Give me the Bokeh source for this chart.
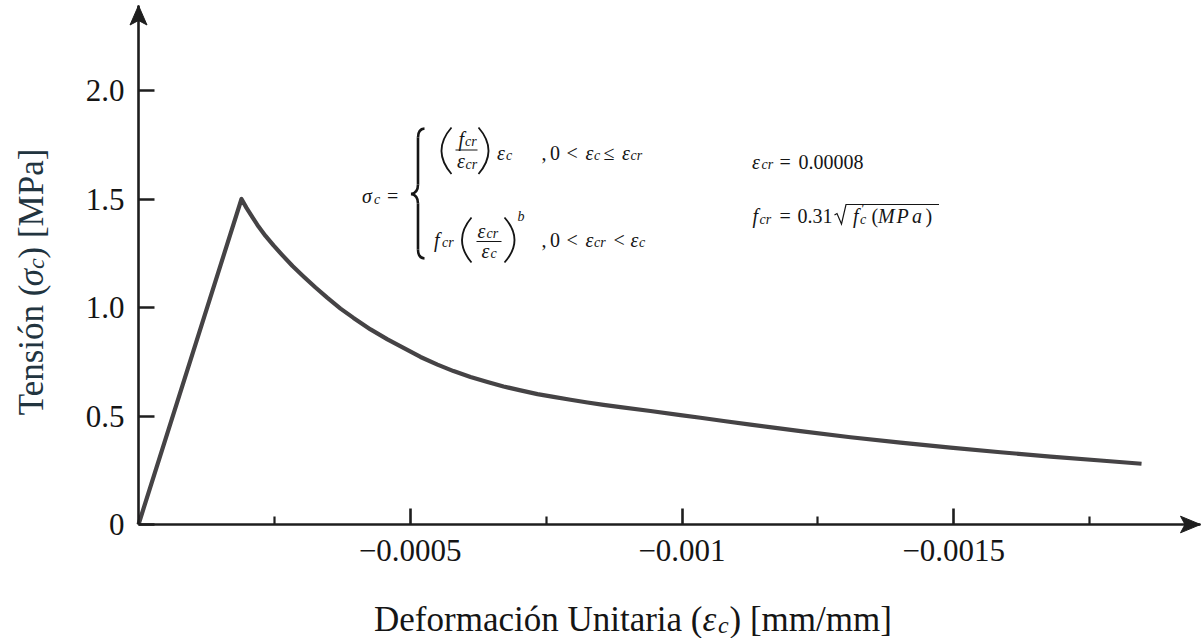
import math
from bokeh.plotting import figure
from bokeh.models import Range1d, FixedTicker, CustomJSTickFormatter, Label
from bokeh.embed import file_html
from bokeh.resources import INLINE

# Tension curve of concrete: strain (mm/mm) and stress (MPa)
strain = [0.0, -0.0001895, -0.0001987, -0.0002098, -0.0002208, -0.0002337,
          -0.0002484, -0.000265, -0.0002834, -0.0003036, -0.0003257,
          -0.0003477, -0.0003717, -0.0003956, -0.0004269, -0.0004581,
          -0.0004876, -0.0005189, -0.0005501, -0.0005796, -0.0006109,
          -0.0006421, -0.0006716, -0.0007029, -0.0007341, -0.0007636,
          -0.0007949, -0.0008261, -0.0008556, -0.0008868, -0.000942,
          -0.0009972, -0.001034, -0.00108, -0.001126, -0.001172, -0.001218,
          -0.00131, -0.001402, -0.001494, -0.001586, -0.001678, -0.00177,
          -0.0018455]
stress = [0.0, 1.5, 1.459, 1.415, 1.373, 1.33, 1.286, 1.24, 1.191, 1.143,
          1.092, 1.044, 0.995, 0.952, 0.899, 0.853, 0.814, 0.772, 0.737,
          0.707, 0.68, 0.657, 0.636, 0.618, 0.601, 0.588, 0.575, 0.562,
          0.551, 0.541, 0.523, 0.504, 0.492, 0.476, 0.46, 0.445, 0.43,
          0.402, 0.377, 0.354, 0.333, 0.313, 0.295, 0.28]

x_ticks = [-0.0005, -0.001, -0.0015]
x_minor_ticks = [-0.00025, -0.00075, -0.00125, -0.00175]
y_ticks = [0, 0.5, 1.0, 1.5, 2.0]

# canvas geometry: the frame fills the canvas, axes sit at x=0 / y=0
W, H = 1204, 638
ORIGIN_X, ORIGIN_Y = 138, 524   # pixel position of (0, 0)
PX_PER_X = 543500.0             # pixels per unit of strain
PX_PER_Y = 217.0                # pixels per MPa

INK = "#151515"
AXIS = "#1e1e1e"
SERIF = "Liberation Serif"
LABEL_DY = 6.0                  # baseline correction for Label text


def at(px, py):
    """Canvas pixel position -> data coordinates."""
    return (-(px - ORIGIN_X) / PX_PER_X, (ORIGIN_Y - py) / PX_PER_Y)


x_lo, y_hi = at(0, 0)
x_hi, y_lo = at(W, H)
x_tip, _ = at(1200, ORIGIN_Y)
_, y_tip = at(ORIGIN_X, 5)

p = figure(width=W, height=H, title=None,
           x_range=Range1d(x_lo, x_hi), y_range=Range1d(y_lo, y_hi),
           output_backend="svg", toolbar_location=None, min_border=0)
p.outline_line_color = None
p.grid.visible = False
p.background_fill_color = "white"
p.border_fill_color = "white"

xa = p.xaxis[0]
ya = p.yaxis[0]
xa.fixed_location = 0
ya.fixed_location = 0
xa.bounds = (x_tip, 0)
ya.bounds = (0, y_tip)
xa.ticker = FixedTicker(ticks=x_ticks, minor_ticks=x_minor_ticks)
ya.ticker = FixedTicker(ticks=y_ticks)
xa.formatter = CustomJSTickFormatter(code="return '\u2212' + Math.abs(tick).toString();")
ya.formatter = CustomJSTickFormatter(code="return tick == 0 ? '0' : tick.toFixed(1);")

for ax in (xa, ya):
    ax.axis_line_width = 2.6
    ax.axis_line_color = AXIS
    ax.major_tick_in = 16
    ax.major_tick_out = 0
    ax.major_tick_line_width = 2.6
    ax.major_tick_line_color = AXIS
    ax.major_label_text_font = SERIF
    ax.major_label_text_font_size = "31px"
    ax.major_label_text_color = INK
xa.minor_tick_in = 8
xa.minor_tick_out = 0
xa.minor_tick_line_width = 2.2
xa.minor_tick_line_color = AXIS
ya.minor_tick_line_color = None
xa.major_label_standoff = 15
ya.major_label_standoff = 14


def patch_px(points, color=AXIS):
    xs, ys = zip(*[at(*pt) for pt in points])
    p.patch(list(xs), list(ys), fill_color=color, line_color=color, line_width=1)


# stealth arrow heads at the axis ends
patch_px([(138, 5), (146.5, 24.5), (138, 20), (129.5, 24.5)])
patch_px([(1200, ORIGIN_Y), (1180, ORIGIN_Y - 8.3), (1184.5, ORIGIN_Y), (1180, ORIGIN_Y + 8.3)])

# the stress-strain curve
p.line(strain, stress, line_width=4.2, line_color="#454345",
       line_join="round", line_cap="butt")


def put(txt, px, py, size=20, italic=False, align="left", angle=0.0, color=INK):
    if angle:
        px -= LABEL_DY
    else:
        py -= LABEL_DY
    x, y = at(px, py)
    p.add_layout(Label(x=x, y=y, text=txt, text_font=SERIF,
                       text_font_size=f"{size}px",
                       text_font_style="italic" if italic else "normal",
                       text_align=align, text_baseline="alphabetic",
                       angle=angle, text_color=color))


def quad(a, c, b, width=1.8):
    (x0, y0), (cx, cy), (x1, y1) = at(*a), at(*c), at(*b)
    p.quadratic(x0=x0, y0=y0, x1=x1, y1=y1, cx=cx, cy=cy,
                line_color=INK, line_width=width)


def seg(a, b, width=1.2):
    (x0, y0), (x1, y1) = at(*a), at(*b)
    p.segment(x0=x0, y0=y0, x1=x1, y1=y1, line_color=INK, line_width=width)


# sigma_c =
put("σ", 361.5, 201.5, italic=True)
put("c", 373.5, 204.5, 14, italic=True)
put("=", 386.5, 201.5)

# curly brace
quad((424, 128), (417.5, 128.5), (417.5, 137), 2.6)
seg((417.5, 137), (417.5, 184), 2.6)
quad((417.5, 184), (417.5, 192.5), (410.5, 193.5), 2.6)
quad((410.5, 193.5), (417.5, 194.5), (417.5, 203), 2.6)
seg((417.5, 203), (417.5, 249), 2.6)
quad((417.5, 249), (417.5, 257.5), (424, 258), 2.6)

# first branch: (f_cr / eps_cr) eps_c , 0 < eps_c <= eps_cr
quad((451, 127), (431, 150), (451, 173.5))
quad((478, 127), (498, 150), (478, 173.5))
put("f", 458, 144.5, italic=True)
put("cr", 464.5, 147, 14, italic=True)
seg((455, 149.5), (477, 149.5))
put("ε", 456.5, 166.5, italic=True)
put("cr", 465, 169.5, 14, italic=True)
put("ε", 496.5, 158, italic=True)
put("c", 505.5, 161, 14, italic=True)
put(",", 541, 158)
put("0", 549.5, 158)
put("<", 566, 158)
put("ε", 585, 158, italic=True)
put("c", 593.5, 161, 14, italic=True)
put("≤", 603, 158)
put("ε", 621.5, 158, italic=True)
put("cr", 630, 161, 14, italic=True)

# second branch: f_cr (eps_cr / eps_c)^b , 0 < eps_cr < eps_c
put("f", 433.5, 245, italic=True)
put("cr", 441.5, 248, 14, italic=True)
quad((471, 217), (452, 239.5), (471, 262))
quad((504, 217), (524, 239.5), (504, 262))
put("ε", 477, 236.5, italic=True)
put("cr", 486, 239, 14, italic=True)
seg((476, 241), (501, 241))
put("ε", 481, 256, italic=True)
put("c", 490, 259, 14, italic=True)
put("b", 517, 221.5, 14, italic=True)
put(",", 541, 245)
put("0", 549.5, 245)
put("<", 566, 245)
put("ε", 585, 245, italic=True)
put("cr", 593.5, 248, 14, italic=True)
put("<", 613, 245)
put("ε", 630, 245, italic=True)
put("c", 638.5, 248, 14, italic=True)

# parameters
put("ε", 751.5, 167, italic=True)
put("cr", 761, 170, 14, italic=True)
put("=", 779, 167)
put("0.00008", 798, 167.5)

put("f", 752, 221.5, italic=True)
put("cr", 759, 224.5, 14, italic=True)
put("=", 779, 221.5)
put("0.31", 797, 221.5)
rx, ry = zip(*[at(834, 214.5), at(836.5, 213), at(841, 223.5),
               at(845.5, 204), at(938.5, 204)])
p.line(list(rx), list(ry), line_color=INK, line_width=1.2, line_join="miter")
put("f", 852.5, 221.5, italic=True)
put("′", 861, 215, 14)
put("c", 859.5, 225, 14, italic=True)
put("(", 871, 221.5)
put("M", 877.5, 221.5, italic=True)
put("P", 896, 221.5, italic=True)
put("a", 911.5, 221.5, italic=True)
put(")", 925, 221.5)

# axis titles
put("Deformación Unitaria (", 702, 625, 35, align="right")
put("ε", 702, 625, 35, italic=True)
put("c", 717.5, 630, 24, italic=True)
put(") [mm/mm]", 729, 625, 35)

YT = "#22343f"
put("Tensión (", 36.5, 284, 35, align="right", angle=math.pi / 2, color=YT)
put("σ", 36.5, 268.5, 35, italic=True, align="right", angle=math.pi / 2, color=YT)
put("c", 41.5, 268.5, 24, italic=True, angle=math.pi / 2, color=YT)
put(") [MPa]", 36.5, 258, 35, angle=math.pi / 2, color=YT)

open("out.html", "w").write(file_html(p, INLINE))
